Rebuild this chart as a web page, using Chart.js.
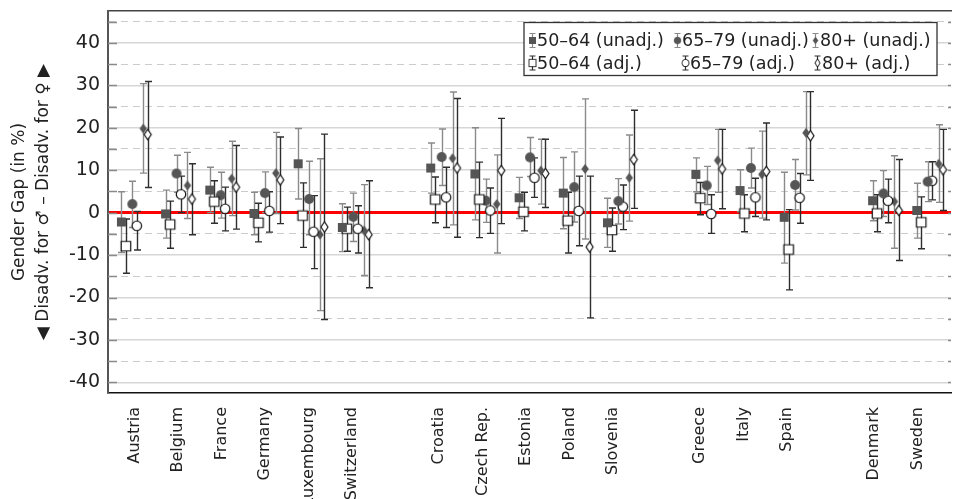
<!DOCTYPE html>
<html lang="en">
<head>
<meta charset="UTF-8" />
<title>Gender Gap by Country and Age Group</title>
<script src="https://cdn.jsdelivr.net/npm/chart.js"></script>
<style>
  body { margin: 0; background: #fff; }
  #wrap { position: relative; width: 957px; height: 499px; }
</style>
</head>
<body>
<div id="wrap"><canvas id="gapChart"></canvas></div>
<script>
// countries and their slot on the x axis (empty slots separate the regions)
const countries = ['Austria', 'Belgium', 'France', 'Germany', 'Luxembourg', 'Switzerland',
  'Croatia', 'Czech Rep.', 'Estonia', 'Poland', 'Slovenia',
  'Greece', 'Italy', 'Spain', 'Denmark', 'Sweden'];
const slots = [0, 1, 2, 3, 4, 5, 7, 8, 9, 10, 11, 13, 14, 15, 17, 18];
const yTicks = [-40, -35, -30, -25, -20, -15, -10, -5, 0, 5, 10, 15, 20, 25, 30, 35, 40, 45];

// 50-64
const sqUnadj   = [-2.2, -0.3, 5.3, -0.2, 11.5, -3.5, 10.5, 9.1, 3.5, 4.6, -2.4, 9.0, 5.2, -1.1, 2.8, 0.5];
const sqUnadjLo = [-9.4, -6.0, 0.0, -5.2, 3.2, -9.2, 4.6, -1.7, -1.4, -3.8, -8.2, 4.9, 0.2, -11.9, -1.9, -6.0];
const sqUnadjHi = [4.9, 5.3, 10.7, 4.8, 19.8, 2.1, 16.4, 20.0, 8.3, 13.0, 3.4, 12.9, 10.1, 9.5, 7.5, 6.9];
const sqAdj     = [-7.9, -2.8, 2.6, -2.4, -0.7, -3.8, 3.1, 3.1, 0.2, -1.9, -4.1, 3.4, -0.2, -8.7, -0.2, -2.3];
const sqAdjLo   = [-14.3, -8.4, -2.5, -6.9, -8.2, -9.1, -2.4, -5.9, -4.3, -9.5, -9.1, -0.5, -4.5, -18.2, -4.5, -8.5];
const sqAdjHi   = [-1.5, 2.7, 7.5, 2.2, 7.0, 1.3, 8.4, 11.9, 4.8, 4.8, 1.1, 7.1, 4.2, 0.7, 4.2, 3.7];
// 65-79
const ciUnadj   = [2.0, 9.2, 4.1, 4.6, 3.2, -1.0, 13.1, 2.8, 13.0, 6.0, 2.7, 6.4, 10.5, 6.5, 4.5, 7.3];
const ciUnadjLo = [-3.5, 4.8, -1.3, 0.0, -5.2, -6.8, 6.4, -2.3, 8.5, -2.2, -2.7, 1.9, 5.8, 0.6, -0.9, 2.6];
const ciUnadjHi = [7.4, 13.5, 9.5, 9.6, 12.1, 4.6, 19.7, 7.9, 17.7, 14.3, 8.0, 10.9, 15.2, 12.5, 9.9, 12.0];
const ciAdj     = [-3.1, 4.3, 0.9, 0.4, -4.5, -3.8, 3.6, 0.5, 8.2, 0.4, 1.4, -0.3, 3.6, 3.5, 2.8, 7.5];
const ciAdjLo   = [-8.8, 0.0, -4.3, -4.6, -13.2, -9.5, -3.5, -4.9, 3.6, -7.8, -4.0, -4.9, -0.9, -2.5, -2.4, 3.0];
const ciAdjHi   = [0.3, 8.6, 6.0, 4.9, 4.0, 1.6, 10.7, 5.8, 12.9, 8.6, 6.5, 4.2, 8.1, 9.2, 7.9, 12.0];
// 80+
const diUnadj   = [19.8, 6.4, 8.0, 9.3, -5.2, -4.2, 12.8, 2.0, 9.9, 10.3, 8.2, 12.3, 9.0, 18.8, 2.6, 11.5];
const diUnadjLo = [9.3, -1.4, -0.7, -0.2, -23.1, -14.8, -2.9, -9.5, 2.0, -6.2, -2.0, 4.8, -1.3, 8.9, -8.4, 2.4];
const diUnadjHi = [30.4, 14.2, 16.8, 18.9, 12.7, 6.6, 28.4, 13.6, 17.3, 26.8, 18.3, 19.6, 19.2, 28.5, 13.4, 20.7];
const diAdj     = [18.4, 3.2, 6.0, 7.7, -3.4, -5.2, 10.5, 9.9, 9.2, -8.1, 12.5, 10.3, 9.7, 18.1, 0.5, 10.1];
const diAdjLo   = [5.9, -5.2, -3.9, -2.6, -25.2, -17.7, -5.8, -2.6, 1.2, -24.8, 1.0, 0.9, -1.7, 7.6, -11.3, 0.5];
const diAdjHi   = [30.9, 11.5, 15.8, 17.8, 18.5, 7.5, 26.9, 22.2, 17.3, 8.6, 24.1, 19.6, 21.1, 28.5, 12.5, 19.6];

const FONT = '"DejaVu Sans", sans-serif';
const DARK = '#555555';

// little canvases used as point styles
function makeMarker(shape, w, h, fill, stroke) {
  const c = document.createElement('canvas');
  c.width = Math.ceil(w + 4); c.height = Math.ceil(h + 4);
  const g = c.getContext('2d');
  const cx = c.width / 2, cy = c.height / 2;
  g.beginPath();
  if (shape === 'rect') g.rect(cx - w / 2, cy - h / 2, w, h);
  else if (shape === 'circle') g.arc(cx, cy, w / 2, 0, Math.PI * 2);
  else {
    g.moveTo(cx, cy - h / 2); g.lineTo(cx + w / 2, cy);
    g.lineTo(cx, cy + h / 2); g.lineTo(cx - w / 2, cy); g.closePath();
  }
  g.fillStyle = fill; g.fill();
  if (stroke) { g.strokeStyle = stroke; g.lineWidth = 1.2; g.stroke(); }
  return c;
}

const markers = [
  makeMarker('rect', 9, 9, DARK),
  makeMarker('rect', 9.5, 9.5, '#fff', '#111'),
  makeMarker('circle', 10, 10, DARK),
  makeMarker('circle', 9.5, 9.5, '#fff', '#111'),
  makeMarker('diamond', 7.5, 10, DARK),
  makeMarker('diamond', 7, 10.5, '#fff', '#111')
];

const offsets = [-0.303, -0.202, -0.056, 0.045, 0.191, 0.292];

function series(label, vals, lo, hi, k) {
  return {
    label: label,
    data: vals.map((v, i) => ({ x: slots[i] + offsets[k], y: v, low: lo[i], high: hi[i] })),
    pointStyle: markers[k],
    pointRadius: 5,
    barColor: k % 2 === 0 ? '#8a8a8a' : '#2e2e2e',
    legendRow: k % 2,
    legendCol: Math.floor(k / 2)
  };
}

const datasets = [
  series('50–64 (unadj.)', sqUnadj, sqUnadjLo, sqUnadjHi, 0),
  series('50–64 (adj.)', sqAdj, sqAdjLo, sqAdjHi, 1),
  series('65–79 (unadj.)', ciUnadj, ciUnadjLo, ciUnadjHi, 2),
  series('65–79 (adj.)', ciAdj, ciAdjLo, ciAdjHi, 3),
  series('80+ (unadj.)', diUnadj, diUnadjLo, diUnadjHi, 4),
  series('80+ (adj.)', diAdj, diAdjLo, diAdjHi, 5)
];

// short inward tick marks on both sides, then error bars under the markers
const errorBars = {
  id: 'errorBars',
  beforeDatasetsDraw(chart) {
    const { ctx, chartArea, scales: { x, y } } = chart;
    ctx.save();
    ctx.strokeStyle = '#8a8a8a';
    ctx.lineWidth = 1.5;
    yTicks.forEach(v => {
      const py = Math.round(y.getPixelForValue(v)) + 0.5;
      ctx.beginPath();
      ctx.moveTo(chartArea.left, py); ctx.lineTo(chartArea.left + 9, py);
      ctx.moveTo(chartArea.right - 3, py); ctx.lineTo(chartArea.right, py);
      ctx.stroke();
    });
    ctx.lineWidth = 1.4;
    chart.data.datasets.forEach(ds => {
      ctx.strokeStyle = ds.barColor;
      ds.data.forEach(p => {
        const px = Math.round(x.getPixelForValue(p.x)) + 0.5;
        const top = y.getPixelForValue(p.high);
        const bot = y.getPixelForValue(p.low);
        ctx.beginPath();
        ctx.moveTo(px, top); ctx.lineTo(px, bot);
        ctx.moveTo(px - 3.5, top); ctx.lineTo(px + 3.5, top);
        ctx.moveTo(px - 3.5, bot); ctx.lineTo(px + 3.5, bot);
        ctx.stroke();
      });
    });
    ctx.restore();
  }
};

// legend box inside the plot, top right
const boxLegend = {
  id: 'boxLegend',
  afterDraw(chart) {
    const ctx = chart.ctx;
    const colX = [[532, 677, 815], [532, 685, 817]];
    const rowY = [40.5, 63];
    ctx.save();
    ctx.fillStyle = '#fff';
    ctx.fillRect(524, 22.5, 413, 53);
    ctx.strokeStyle = '#333';
    ctx.lineWidth = 1.3;
    ctx.strokeRect(524, 22.5, 413, 53);
    ctx.font = '17.5px ' + FONT;
    ctx.textBaseline = 'middle';
    ctx.fillStyle = '#222';
    chart.data.datasets.forEach(ds => {
      const sx = colX[ds.legendRow][ds.legendCol];
      const sy = rowY[ds.legendRow];
      ctx.strokeStyle = ds.barColor;
      ctx.lineWidth = 1.2;
      ctx.beginPath();
      ctx.moveTo(sx + 0.5, sy - 7); ctx.lineTo(sx + 0.5, sy + 7);
      ctx.moveTo(sx - 2.5, sy - 7); ctx.lineTo(sx + 3.5, sy - 7);
      ctx.moveTo(sx - 2.5, sy + 7); ctx.lineTo(sx + 3.5, sy + 7);
      ctx.stroke();
      const m = ds.pointStyle;
      const w = m.width * 0.75, h = m.height * 0.75;
      ctx.drawImage(m, sx + 0.5 - w / 2, sy - h / 2, w, h);
      ctx.fillText(ds.label, sx + 5, sy + 1);
    });
    ctx.restore();
  }
};

const labelSpread = 0.984;

new Chart(document.getElementById('gapChart'), {
  type: 'scatter',
  data: { datasets: datasets },
  plugins: [errorBars, boxLegend],
  options: {
    responsive: true,
    maintainAspectRatio: false,
    animation: false,
    layout: { padding: { left: 8, top: 11, right: 0, bottom: 0 } },
    plugins: { legend: { display: false }, tooltip: { enabled: false } },
    scales: {
      x: {
        type: 'linear',
        min: -0.607,
        max: 18.472,
        afterBuildTicks: scale => { scale.ticks = slots.map(s => ({ value: s * labelSpread })); },
        afterFit: scale => { scale.height = 106; scale.paddingLeft = 0; scale.paddingRight = 0; },
        grid: { display: false },
        border: { display: true, color: '#111', width: 1.5 },
        ticks: {
          autoSkip: false,
          minRotation: 90,
          maxRotation: 90,
          padding: 6,
          color: '#222',
          font: { family: FONT, size: 16 },
          callback: (v, i) => countries[i]
        }
      },
      xTop: {
        type: 'linear',
        position: 'top',
        min: -0.607,
        max: 18.472,
        grid: { display: false, drawTicks: false },
        ticks: { display: false },
        border: { display: true, color: '#444', width: 1.5 },
        afterFit: scale => { scale.height = 0; scale.paddingLeft = 0; scale.paddingRight = 0; }
      },
      y: {
        min: -42.5,
        max: 47.5,
        afterBuildTicks: scale => { scale.ticks = yTicks.map(v => ({ value: v })); },
        afterFit: scale => { scale.width = 100; scale.paddingTop = 0; scale.paddingBottom = 0; },
        grid: {
          color: c => c.tick && c.tick.value === 0 ? '#ff0000' : (c.tick && c.tick.value % 10 === 0 ? '#d6d6d6' : '#cccccc'),
          lineWidth: c => c.tick && c.tick.value === 0 ? 3 : (c.tick && c.tick.value % 10 === 0 ? 1.5 : 1),
          drawTicks: false
        },
        border: {
          display: true, color: '#555', width: 2,
          dash: c => (c.tick && c.tick.value % 10 !== 0) ? [7, 5] : []
        },
        ticks: {
          autoSkip: false,
          padding: 8,
          color: '#222',
          font: { family: FONT, size: 19 },
          callback: v => (v % 10 === 0 ? String(v) : '')
        },
        title: {
          display: true,
          text: ['Gender Gap (in %)', '◀ Disadv. for ♂ – Disadv. for ♀ ▶'],
          color: '#222',
          font: { family: FONT, size: 17, lineHeight: 1.4 },
          padding: { top: 0, bottom: 2 }
        }
      }
    }
  }
});
</script>
</body>
</html>
